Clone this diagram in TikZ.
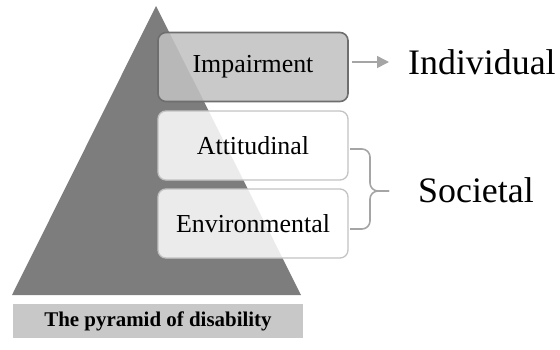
\documentclass[tikz,border=0pt]{standalone}
\usepackage{fontspec}
\setmainfont{Liberation Serif}
\usetikzlibrary{arrows.meta}

\definecolor{pyrgray}{RGB}{125,125,125}
\definecolor{impfill}{RGB}{193,193,193}
\definecolor{impline}{RGB}{110,110,110}
\definecolor{boxline}{RGB}{195,195,195}
\definecolor{linkgray}{RGB}{165,165,165}
\definecolor{capfill}{RGB}{200,200,200}

\tikzset{
    levelbox/.style={draw, rounded corners=8bp, minimum width=190bp, minimum height=69bp,
        inner sep=0pt, font=\fontsize{26}{30}\selectfont},
    bigtxt/.style={inner sep=0pt, anchor=west, font=\fontsize{36}{40}\selectfont},
    link/.style={draw=linkgray, line width=1.6bp},
}

\begin{document}
\begin{tikzpicture}[x=1bp, y=-1bp]
            \useasboundingbox (0, 0) rectangle (560, 349);
            \fill[pyrgray] (156, 6) -- (301, 295) -- (12, 295) -- cycle;
            
            \node[fill=capfill, minimum width=290bp, minimum height=34bp, inner sep=0pt,
                font=\bfseries\fontsize{21}{24}\selectfont] (cap) at (158, 321) {The pyramid of disability};
            
            \node[levelbox, fill=impfill, fill opacity=0.88, text opacity=1, draw=impline, line width=1.6bp] (imp) at (253, 67) {Impairment};
            \node[levelbox, fill=white, fill opacity=0.85, text opacity=1, draw=boxline, line width=1.3bp] (att) at (253, 145.5) {Attitudinal};
            \node[levelbox, fill=white, fill opacity=0.85, text opacity=1, draw=boxline, line width=1.3bp] (env) at (253, 223.5) {Environmental};
            
            \node[bigtxt] (ind) at (408, 62) {Individual};
            \node[bigtxt] (soc) at (418, 190) {Societal};
            
            \coordinate (bt) at (350, 149);
            \coordinate (bb) at (350, 229);
            \coordinate (bmid) at (370, 191);
            \coordinate (btip) at (389, 191);
            
            \draw[link, -{Triangle[length=12bp, width=12bp]}, shorten <=3bp, shorten >=19bp] (imp.east |- ind.west) -- (ind.west);
            \draw[link, rounded corners=8bp] (bt) -| (bmid) -- (btip);
            \draw[link, rounded corners=8bp] (bb) -| (bmid) -- (btip);
    	\end{tikzpicture}
\end{document}
